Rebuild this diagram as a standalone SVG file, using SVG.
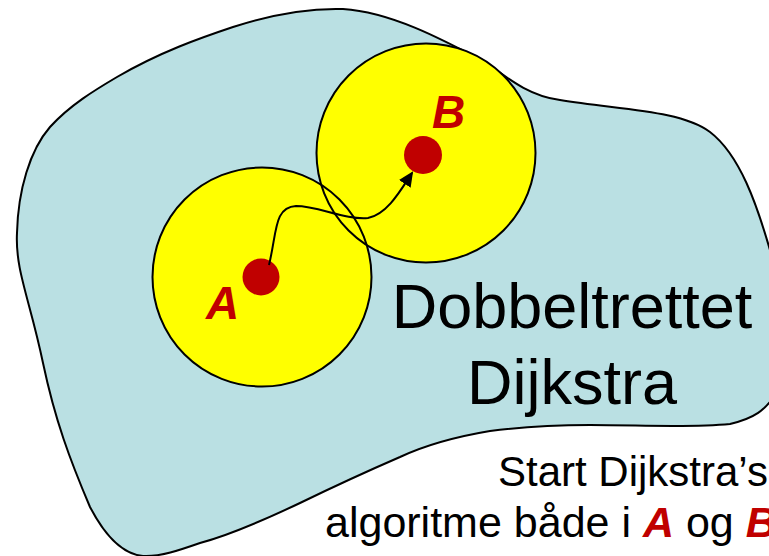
<svg xmlns="http://www.w3.org/2000/svg" width="769" height="556" viewBox="0 0 769 556">
<style>
.outline{fill:none;stroke:#000;stroke-width:2}
.area{fill:#FFFF00}
.dot{fill:#C00000}
.lbl{font-family:"Liberation Sans",Arial,sans-serif;font-weight:bold;font-style:italic;fill:#C00000;font-size:46px}
.txt{font-family:"Liberation Sans",Arial,sans-serif;fill:#000}
.conn{fill:none;stroke:#000;stroke-width:2}
</style>
<defs>
<marker id="arrow" markerUnits="userSpaceOnUse" markerWidth="16" markerHeight="14" refX="13" refY="7" orient="auto">
<path d="M0,0 L15,7 L0,14 z" fill="#000"/>
</marker>
</defs>
<g id="graph">
<path d="M343 9 C390 12 440 38 485 62 C510 80 530 96 560 100 C620 110 680 110 710 132 C740 155 757 205 770 250 C785 300 790 360 775 395 C765 410 755 418 730 424 C690 428 640 425 590 425 C560 425 520 427 490 431 C460 436 430 443 400 457 C370 470 335 486 300 503 C260 522 230 535 200 543 C180 550 160 557 143 556 C120 554 102 530 90 507 C70 460 55 420 43 363 C30 300 15 270 17 233 C18 190 30 150 50 127 C70 105 95 90 117 77 C160 52 200 38 233 27 C270 15 310 8 343 9 Z" fill="#BAE0E3" stroke="#000" stroke-width="2"/>
</g>
<g id="search-areas">
<circle class="area" cx="262" cy="277" r="109.5"/>
<circle class="area" cx="426" cy="153" r="109.5"/>
</g>
<g id="A">
<circle class="outline" cx="262" cy="277" r="109.5"/>
<circle class="dot" cx="261" cy="277" r="18.5"/>
<text class="lbl" x="206" y="319">A</text>
</g>
<g id="B">
<circle class="outline" cx="426" cy="153" r="109.5"/>
<circle class="dot" cx="423" cy="155" r="19"/>
<text class="lbl" x="432" y="128">B</text>
</g>
<g id="connectors">
<path class="conn" d="M269 265 C277 232 274 207 296 206 C318 206 345 220 368 218 C388 214 402 188 412 173" marker-end="url(#arrow)"/>
</g>
<g id="title">
<text class="txt" x="572" y="328" font-size="63" text-anchor="middle">Dobbeltrettet</text>
<text class="txt" x="572" y="404" font-size="63" text-anchor="middle">Dijkstra</text>
</g>
<g id="caption">
<text class="txt" x="498" y="486" font-size="42">Start Dijkstra’s</text>
<text class="txt" x="325" y="537" font-size="43">algoritme både i <tspan font-weight="bold" font-style="italic" fill="#C00000">A</tspan> og <tspan font-weight="bold" font-style="italic" fill="#C00000">B</tspan></text>
</g>
</svg>
